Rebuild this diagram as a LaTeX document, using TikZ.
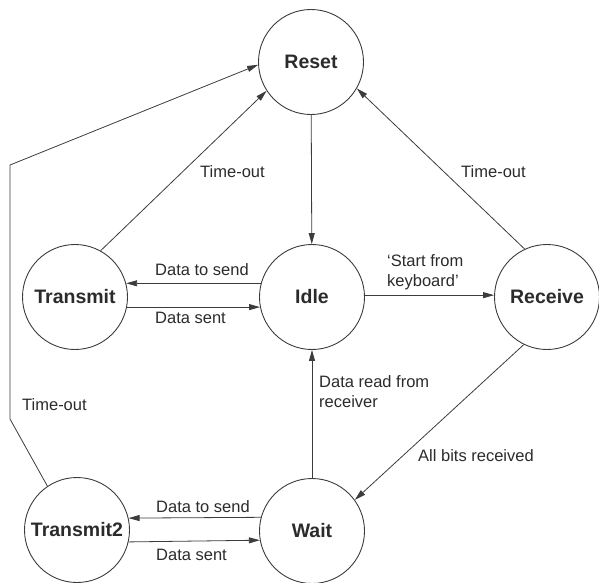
\documentclass[tikz,border=0pt]{standalone}
\usepackage{fontspec}
\setmainfont{Liberation Sans}
\usetikzlibrary{arrows.meta}
\definecolor{linegray}{HTML}{3C3C3C}
\definecolor{inkgray}{HTML}{2B2B2B}
\begin{document}
\begin{tikzpicture}[x=1pt,y=-1pt,
  state/.style={circle,draw=linegray,line width=0.9pt,minimum size=105pt,inner sep=0pt,
    font=\fontsize{19.5}{22}\selectfont\bfseries,text=inkgray},
  trans/.style={draw=linegray,line width=0.8pt,-{Triangle[length=11pt,width=6pt]}},
  lbl/.style={inner sep=0pt,font=\fontsize{16.5}{20}\selectfont,text=inkgray,align=left},
]
\useasboundingbox (0,0) rectangle (599,582);

% states
\node[state] (reset)     at (311,62)  {Reset};
\node[state] (idle)      at (312,297) {Idle};
\node[state] (transmit)  at (75,297)  {Transmit};
\node[state] (receive)   at (547,297) {Receive};
\node[state] (transmit2) at (77,530)  {Transmit2};
\node[state] (wait)      at (312,531) {Wait};

% corners of the long time-out path
\coordinate (bendlow)  at (10,419);
\coordinate (bendhigh) at (10,165);

% transitions
\draw[trans] (reset) -- (idle);
\draw[trans] (transmit.61) -- (reset.213);
\draw[trans] (receive.115) -- (reset.330);
\draw[trans] (transmit2.124) -- (bendlow) -- (bendhigh) -- (reset.183);
\draw[trans] (idle.165) -- (transmit.15);
\draw[trans] (transmit.-11) -- (idle.191);
\draw[trans] (idle.2) -- (receive.178);
\draw[trans] (wait) -- (idle);
\draw[trans] (receive.244) -- (wait.36);
\draw[trans] (wait.165) -- (transmit2.13);
\draw[trans] (transmit2.-13) -- (wait.190.5);

% transition labels
\node[lbl,anchor=west] (toA)   at (200,172) {Time-out};
\node[lbl,anchor=west] (toB)   at (461,172) {Time-out};
\node[lbl,anchor=west] (toC)   at (22,405)  {Time-out};
\node[lbl,anchor=west] (sendA) at (155,270) {Data to send};
\node[lbl,anchor=west] (sentA) at (155,318) {Data sent};
\node[lbl,anchor=west] (kbd)   at (387,272) {‘Start from\\keyboard’};
\node[lbl,anchor=west] (rd)    at (319,392) {Data read from\\receiver};
\node[lbl,anchor=west] (bits)  at (418,456) {All bits received};
\node[lbl,anchor=west] (sendB) at (156,507) {Data to send};
\node[lbl,anchor=west] (sentB) at (156,555) {Data sent};
\end{tikzpicture}
\end{document}
